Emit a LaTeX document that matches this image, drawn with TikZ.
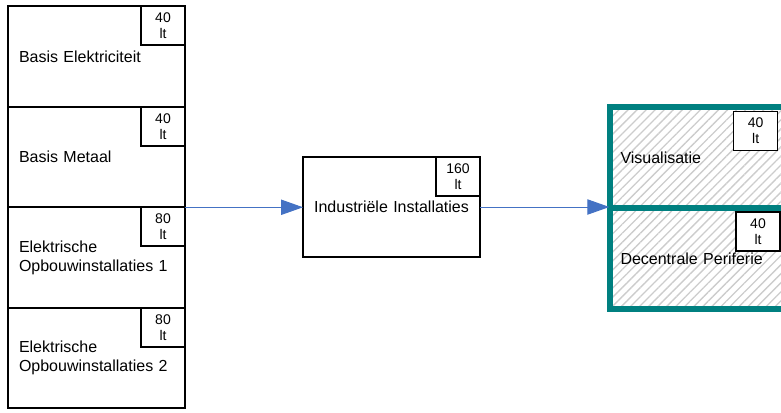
\documentclass[tikz,border=0pt]{standalone}
\usepackage{fontspec}
\setmainfont{Liberation Sans}
\usetikzlibrary{arrows.meta,positioning,calc,patterns.meta}

\definecolor{modteal}{RGB}{0,128,128}
\definecolor{flowblue}{RGB}{68,114,196}

\begin{document}
\begin{tikzpicture}[x=0.75pt,y=-0.75pt,
  course/.style={rectangle,draw,line width=1.2pt,outer sep=0pt,minimum width=132.75pt,minimum height=75.4pt,text width=116.25pt,inner xsep=8.25pt,align=left,font=\fontsize{12}{14.4}\selectfont},
  hours/.style={rectangle,draw,fill=white,line width=1.2pt,outer sep=0pt,inner sep=0pt,minimum width=33pt,minimum height=29.25pt,align=center,anchor=north east,font=\fontsize{10.5}{12}\selectfont},
  module/.style={rectangle,draw=modteal,line width=4.5pt,pattern={Lines[angle=45,distance=4.8pt,line width=1pt]},pattern color=black!20,minimum width=132.75pt,minimum height=75.75pt,text width=117pt,inner xsep=7.5pt,align=left,font=\fontsize{12}{14.4}\selectfont},
  flow/.style={-{Triangle[length=16.5pt,width=11.5pt]},draw=flowblue,line width=0.75pt}]
\useasboundingbox (0,0) rectangle (781,412);
\clip (0,0) rectangle (781,412);

% basic courses
\node[course,name=bel] at (96.5,56.5) {Basis Elektriciteit};
\node[course,name=bmet] at (96.5,157) {Basis Metaal};
\node[course,name=eop1] at (96.5,257.5) {Elektrische\\Opbouwinstallaties 1};
\node[course,name=eop2] at (96.5,358) {Elektrische\\Opbouwinstallaties 2};
\node[hours,name=hbel] at (bel.north east) {40\\lt};
\node[hours,name=hbmet] at (bmet.north east) {40\\lt};
\node[hours,name=heop1] at (eop1.north east) {80\\lt};
\node[hours,name=heop2] at (eop2.north east) {80\\lt};

% middle course
\node[course,align=center,minimum width=131.25pt,minimum height=75pt,name=ind] at (391.5,207) {Industriële Installaties};
\node[hours,name=hind] at (ind.north east) {160\\lt};

% hatched modules
\node[module,name=vis] at (698.5,157.5) {Visualisatie};
\node[module,name=dec] at (698.5,258.5) {Decentrale Periferie};
\node[hours,name=hvis] at ($(vis.north east)+(-10,5)$) {40\\lt};
\node[hours,name=hdec] at ($(dec.north east)+(-10,7)$) {40\\lt};

% arrows
\draw[flow] (bmet.south east) -- (bmet.south east -| ind.west);
\draw[flow] (ind.east) -- (ind.east -| vis.west);
\end{tikzpicture}
\end{document}
